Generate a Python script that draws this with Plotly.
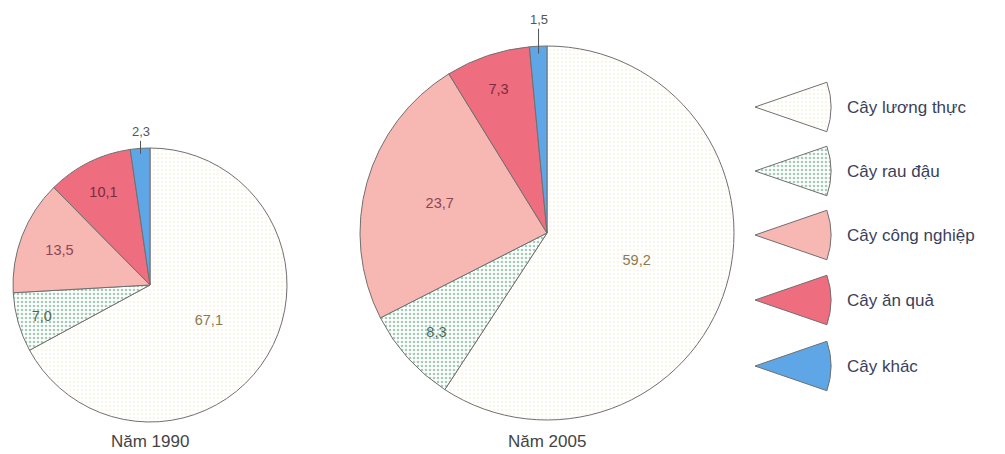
import math

import plotly.graph_objects as go

W, H = 1005, 454
OFF = 8  # default page margin around the plot div

labels = ["Cây lương thực", "Cây rau đậu", "Cây công nghiệp", "Cây ăn quả", "Cây khác"]
years = ["Năm 1990", "Năm 2005"]
values_1990 = [67.1, 7.0, 13.5, 10.1, 2.3]
values_2005 = [59.2, 8.3, 23.7, 7.3, 1.5]

colors = ["#fdfbf2", "#d9ebe0", "#f7b7b3", "#ee6d7f", "#5ea6e6"]
dot_colors = ["#f3ebc8", "#a6ccb7", "#f7b7b3", "#ee6d7f", "#5ea6e6"]
dot_shapes = [".", ".", "", "", ""]
dot_solid = [0.12, 0.35, 0.3, 0.3, 0.3]
text_colors = ["#8a7a52", "#466b5b", "#8c4656", "#7b2c3e", "#555555"]
LINE = "#707070"
FONT = "Arial, Liberation Sans, sans-serif"

# pie placement in screen pixels: centre x, centre y (from top), radius
pies = [(150, 285, 137), (547, 233, 187)]
small_label_ay = [-22, -34]


def px_x(x):
    return (x - OFF) / W


def px_y(y):
    return (H - (y - OFF)) / H


def fmt(v):
    return f"{v:.1f}".replace(".", ",")


def domain(cx, cy, r):
    return dict(x=[px_x(cx - r), px_x(cx + r)],
                y=[px_y(cy + r), px_y(cy - r)])


fig = go.Figure()

for (cx, cy, r), vals, ay in zip(pies, [values_1990, values_2005], small_label_ay):
    text = [fmt(v) if v > 5 else "" for v in vals]
    fig.add_trace(go.Pie(
        labels=labels, values=vals, sort=False, direction="clockwise",
        rotation=0, domain=domain(cx, cy, r),
        marker=dict(colors=colors, line=dict(color=LINE, width=1),
                    pattern=dict(shape=dot_shapes, fgcolor=dot_colors,
                                 size=4, solidity=dot_solid, fillmode="replace")),
        text=text, textinfo="text", textposition="inside",
        insidetextorientation="horizontal",
        textfont=dict(family=FONT, size=14.5, color=text_colors),
        showlegend=False, hoverinfo="label+value",
    ))

    # small last slice: label above with a short leader line
    frac = 1 - vals[-1] / 2 / sum(vals)
    ang = 2 * math.pi * frac
    tip_x = cx + 0.96 * r * math.sin(ang)
    tip_y = cy - 0.96 * r * math.cos(ang)
    fig.add_annotation(
        x=px_x(tip_x), y=px_y(tip_y), xref="paper", yref="paper",
        text=fmt(vals[-1]), showarrow=True, arrowhead=0, arrowwidth=1,
        arrowcolor="#555555", ax=0, ay=ay,
        font=dict(family=FONT, size=13, color="#555555"),
    )

for (cx, cy, r), year in zip(pies, years):
    fig.add_annotation(
        x=px_x(cx), y=px_y(441), xref="paper", yref="paper",
        xanchor="center", yanchor="middle",
        text=year, showarrow=False,
        font=dict(family=FONT, size=17, color="#444444"),
    )

# legend: small wedges pointing left
leg_x, leg_r = 755, 76
leg_y = [107, 171, 235, 300, 366]
for i, (lab, yy) in enumerate(zip(labels, leg_y)):
    fig.add_trace(go.Pie(
        values=[38, 322], sort=False, direction="clockwise", rotation=71,
        domain=domain(leg_x, yy, leg_r),
        marker=dict(colors=[colors[i], "rgba(0,0,0,0)"],
                    line=dict(color=[LINE, "rgba(0,0,0,0)"], width=1),
                    pattern=dict(shape=[dot_shapes[i], ""],
                                 fgcolor=[dot_colors[i], dot_colors[i]],
                                 size=4, solidity=dot_solid[i])),
        textinfo="none", hoverinfo="skip", showlegend=False,
    ))
    fig.add_annotation(
        x=px_x(845), y=px_y(yy), xref="paper", yref="paper",
        xanchor="left", yanchor="middle",
        text=lab, showarrow=False,
        font=dict(family=FONT, size=17, color="#3a3f5a"),
    )

fig.update_layout(
    width=W, height=H, margin=dict(l=0, r=0, t=0, b=0),
    paper_bgcolor="white", plot_bgcolor="white",
    font=dict(family=FONT),
)

fig.write_html("out.html")
